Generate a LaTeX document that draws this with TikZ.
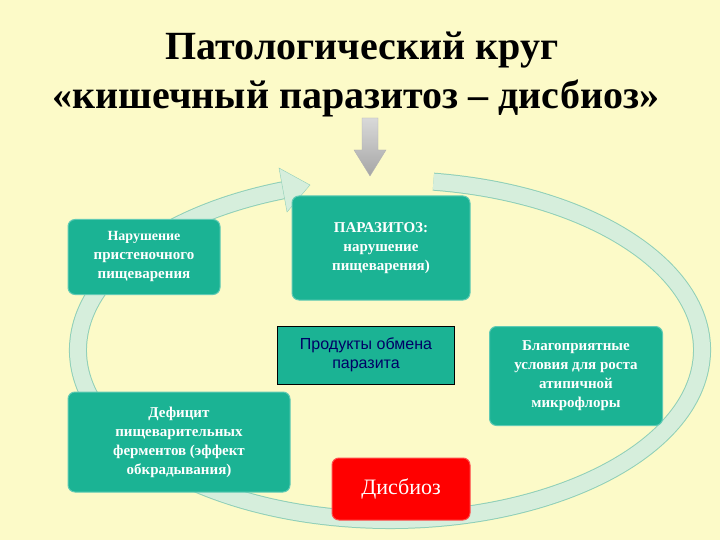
\documentclass[tikz,border=0pt]{standalone}
\usepackage{fontspec}
\setmainfont{Liberation Serif}
\newfontfamily\sansf{Liberation Sans}
\begin{document}
\begin{tikzpicture}[x=1pt,y=-1pt]
\definecolor{bg}{HTML}{FCFAC8}
\definecolor{teal}{HTML}{1BB394}
\definecolor{band}{HTML}{D6EEDC}
\definecolor{bandedge}{HTML}{8FCFB8}
\tikzset{box/.style={fill=teal,draw=teal!70!white,line width=1pt,rounded corners=7pt,text=white,font=\bfseries\fontsize{15}{19}\selectfont,align=center,inner sep=3pt},
 ttl/.style={font=\bfseries\fontsize{40}{44}\selectfont}}
\useasboundingbox (0,0) rectangle (720,540);
\fill[bg] (0,0) rectangle (720,540);
% ring band
\draw[bandedge,line width=18pt] (390,350) ++(82:312 and -170) arc[start angle=82,end angle=-250,x radius=312,y radius=-170];
\draw[band,line width=16pt] (390,350) ++(82:312 and -170) arc[start angle=82,end angle=-250,x radius=312,y radius=-170];
\coordinate (h1) at (279,168);
\coordinate (h2) at (287,212);
\coordinate (h3) at (310,185);
\fill[band,draw=bandedge] (h1) -- (h3) -- (h2) -- cycle;
% title
\node[ttl] (t1) at (362,50) {Патологический круг};
\node[ttl] (t2) at (356,98) {«кишечный паразитоз – дисбиоз»};
% down arrow
\shade[top color=gray!30,bottom color=gray!70,draw=gray!60] (362,118) -- (378,118) -- (378,150) -- (386,150) -- (370,176) -- (354,150) -- (362,150) -- cycle;
% boxes
\node[box,minimum width=152pt,minimum height=75pt] (a) at (144,257) {\fontsize{14}{19}\selectfont Нарушение\\пристеночного\\пищеварения};
\node[box,minimum width=178pt,minimum height=104pt] (b) at (381,248) {ПАРАЗИТОЗ:\\нарушение\\пищеварения)};
\node[fill=teal,draw=black,minimum width=177pt,minimum height=58pt,align=center,text=blue!40!black,font=\sansf\fontsize{16}{19}\selectfont] (c) at (366,355) {Продукты обмена\\паразита};
\node[box,minimum width=173pt,minimum height=99pt] (d) at (576,376) {Благоприятные\\условия для роста\\атипичной\\микрофлоры};
\node[box,minimum width=222pt,minimum height=100pt] (e) at (179,442) {Дефицит\\пищеварительных\\ферментов (эффект\\обкрадывания)};
\node[box,fill=red,draw=red!70!white,minimum width=138pt,minimum height=62pt,font=\fontsize{22}{26}\selectfont] (f) at (401,489) {Дисбиоз};
\end{tikzpicture}
\end{document}
